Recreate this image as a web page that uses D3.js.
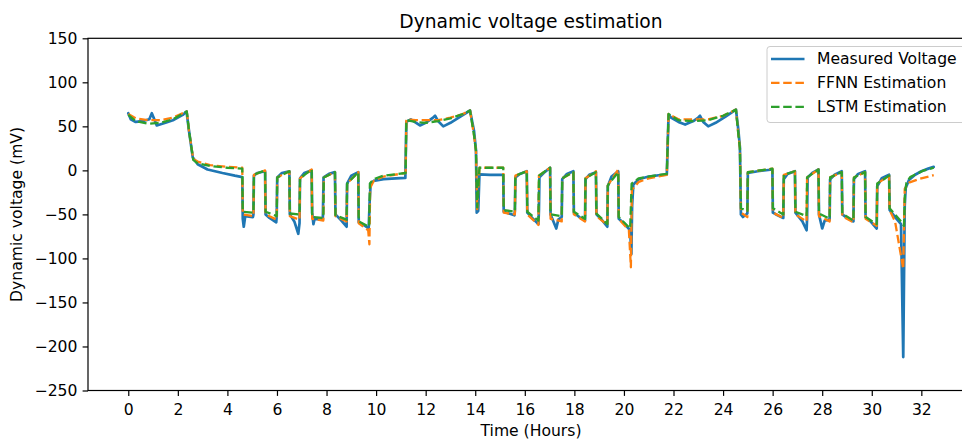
<!DOCTYPE html>
<html>
<head>
<meta charset="utf-8">
<script src="https://cdn.jsdelivr.net/npm/d3@7"></script>
<style>
  html, body { margin: 0; padding: 0; background: #fff; }
  svg { display: block; font-family: "DejaVu Sans", sans-serif; }
</style>
</head>
<body>
<svg id="chart" width="962" height="439"></svg>
<script>
// Time (hours) / dynamic voltage (mV) samples for each trace
const measuredVoltage = [
  [0,65],[0.1,58],[0.3,55],[0.6,56],[0.85,58],[0.95,65],[1.05,58],[1.15,51],[1.5,54],[1.8,57],[2.0,60],[2.2,63],[2.35,67],
  [2.45,45],[2.6,15],[2.8,7],[3.2,1],[3.8,-3],[4.3,-6],[4.6,-7.6],
  [4.62,-55],[4.66,-64],[4.72,-52],[5.03,-53],[5.05,-50],[5.07,-6],[5.2,-3],[5.52,-1],
  [5.54,-50],[5.7,-54],[5.97,-59],[5.99,-52],[6.01,-8],[6.2,-3],[6.5,-1],
  [6.52,-50],[6.7,-58],[6.86,-72],[6.91,-60],[6.93,-9],[7.1,-3],[7.4,0],
  [7.42,-48],[7.47,-61],[7.52,-55],[7.85,-56],[7.88,-8],[8.1,-4],[8.34,-2],
  [8.36,-50],[8.6,-57],[8.81,-64],[8.83,-15],[9.0,-6],[9.28,-2],
  [9.3,-59],[9.5,-62],[9.7,-66],[9.74,-35],[9.78,-15],[9.9,-12],[10.3,-10],[10.8,-9],[11.18,-8.5],
  [11.22,55],[11.4,58],[11.77,51],[12.0,54],[12.3,60],[12.38,62],[12.5,56],[12.71,50],[13.0,54],[13.4,61],[13.79,68],
  [13.95,45],[14.03,23],[14.06,-48],[14.12,-46],[14.17,-4.5],[14.6,-5],[15.13,-5],
  [15.15,-47],[15.58,-51],[15.6,-46],[15.62,-8],[15.8,-4],[16.08,-1],
  [16.1,-48],[16.3,-54],[16.55,-61],[16.57,-45],[16.59,-8],[16.8,-2],[17.02,3],
  [17.04,-50],[17.27,-66],[17.35,-56],[17.49,-53],[17.51,-10],[17.7,-4],[17.96,-1],
  [17.98,-48],[18.2,-53],[18.43,-57],[18.45,-10],[18.6,-5],[18.87,-2],
  [18.89,-50],[19.1,-56],[19.33,-64],[19.35,-18],[19.5,-7],[19.77,-1],
  [19.79,-55],[20.0,-60],[20.25,-68],[20.3,-95],[20.33,-40],[20.38,-16],[20.6,-10],[21.0,-7],[21.4,-5.5],[21.73,-4.5],
  [21.8,63],[21.9,60],[22.2,55],[22.47,52],[22.8,56],[23.0,60],[23.07,62],[23.2,55],[23.4,50],[23.7,54],[24.1,61],[24.52,69],
  [24.62,45],[24.68,26],[24.72,-50],[24.8,-53],[24.98,-49],[25.0,-3],[25.4,-1],[25.99,1],
  [26.01,-48],[26.2,-51],[26.43,-54],[26.45,-10],[26.6,-4],[26.9,-1],
  [26.92,-48],[27.2,-58],[27.37,-68],[27.39,-55],[27.41,-8],[27.6,-3],[27.85,1],
  [27.87,-50],[28.0,-66],[28.1,-57],[28.3,-56],[28.32,-10],[28.5,-5],[28.79,-1],
  [28.81,-50],[29.0,-54],[29.26,-58],[29.28,-10],[29.45,-4],[29.73,-1],
  [29.75,-53],[29.95,-58],[30.2,-66],[30.22,-18],[30.4,-9],[30.7,-5],
  [30.72,-45],[31.0,-55],[31.18,-61],[31.27,-212],[31.33,-40],[31.37,-20],[31.5,-11],[31.75,-5],[32.0,-1],[32.28,2],[32.5,4]
];

const ffnnEstimate = [
  [0,64],[0.3,59],[0.8,57],[1.3,57],[1.8,60],[2.36,67],
  [2.45,45],[2.62,13],[2.8,10],[3.3,6],[4.0,4],[4.6,3],
  [4.62,-50],[5.05,-52],[5.07,-5],[5.52,0],
  [5.54,-50],[5.99,-56],[6.01,-8],[6.5,-1],
  [6.52,-52],[6.91,-56],[6.93,-9],[7.4,1],
  [7.42,-55],[7.87,-57],[7.89,-8],[8.34,-2],
  [8.36,-52],[8.81,-58],[8.83,-15],[9.28,-2],
  [9.3,-60],[9.68,-68],[9.73,-84],[9.76,-20],[9.9,-12],[10.3,-7],[11.19,-3],
  [11.22,58],[11.6,57],[12.0,57],[12.5,57],[13.0,60],[13.5,64],[13.79,68],
  [13.95,40],[14.03,22],[14.08,-44],[14.17,3],[15.13,3],
  [15.15,-48],[15.6,-50],[15.62,-6],[16.08,-1],
  [16.1,-50],[16.55,-62],[16.57,-6],[17.02,3],
  [17.04,-55],[17.49,-58],[17.51,-9],[17.96,-2],
  [17.98,-50],[18.43,-58],[18.45,-9],[18.87,-1],
  [18.89,-52],[19.33,-62],[19.35,-17],[19.77,1],
  [19.79,-55],[20.2,-68],[20.28,-110],[20.32,-22],[20.6,-13],[21.0,-9],[21.73,-5],
  [21.8,64],[22.2,58],[22.8,58],[23.4,58],[24.0,62],[24.52,69],
  [24.62,40],[24.68,25],[24.72,-48],[24.98,-53],[25.0,-2],[25.99,2],
  [26.01,-48],[26.43,-54],[26.45,-5],[26.9,-1],
  [26.92,-50],[27.37,-58],[27.39,-8],[27.85,1],
  [27.87,-52],[28.3,-58],[28.32,-8],[28.79,-2],
  [28.81,-52],[29.26,-59],[29.28,-8],[29.73,-2],
  [29.75,-55],[30.2,-63],[30.22,-15],[30.7,-6],
  [30.72,-45],[30.94,-58],[31.27,-112],[31.33,-21],[31.5,-14],[31.95,-9.5],[32.5,-5.5]
];

const lstmEstimate = [
  [0,63],[0.3,56],[0.8,53],[1.3,54],[1.8,58],[2.36,67],
  [2.45,45],[2.62,12],[2.8,8],[3.3,5],[4.0,3],[4.6,2],
  [4.62,-47],[5.05,-48],[5.07,-5],[5.52,0],
  [5.54,-47],[5.99,-52],[6.01,-8],[6.5,-1],
  [6.52,-49],[6.91,-50],[6.93,-9],[7.4,1],
  [7.42,-53],[7.87,-54],[7.89,-8],[8.34,-2],
  [8.36,-51],[8.81,-56],[8.83,-15],[9.28,-2],
  [9.3,-58],[9.72,-64],[9.75,-15],[9.9,-10],[10.3,-6],[11.19,-3],
  [11.22,57],[11.6,55],[12.0,54],[12.5,56],[13.0,59],[13.5,64],[13.79,68],
  [13.95,40],[14.03,22],[14.08,-42],[14.17,3],[15.13,3],
  [15.15,-45],[15.6,-47],[15.62,-6],[16.08,-1],
  [16.1,-47],[16.55,-57],[16.57,-6],[17.02,3],
  [17.04,-50],[17.49,-52],[17.51,-9],[17.96,-2],
  [17.98,-47],[18.43,-55],[18.45,-9],[18.87,-2],
  [18.89,-49],[19.33,-61],[19.35,-17],[19.77,-2],
  [19.79,-53],[20.25,-66],[20.31,-15],[20.6,-9],[21.0,-7],[21.73,-4],
  [21.8,64],[22.2,57],[22.8,56],[23.4,57],[24.0,62],[24.52,69],
  [24.62,40],[24.68,25],[24.72,-43],[24.98,-46],[25.0,-2],[25.99,2],
  [26.01,-43],[26.43,-50],[26.45,-5],[26.9,-1],
  [26.92,-47],[27.37,-52],[27.39,-8],[27.85,1],
  [27.87,-49],[28.3,-55],[28.32,-8],[28.79,-2],
  [28.81,-49],[29.26,-57],[29.28,-8],[29.73,-2],
  [29.75,-53],[30.2,-61],[30.22,-15],[30.7,-6],
  [30.72,-43],[31.15,-57],[31.3,-63],[31.34,-25],[31.4,-14],[31.55,-7.6],[32.07,-0.4],[32.5,3]
];

const xTicks = [0,2,4,6,8,10,12,14,16,18,20,22,24,26,28,30,32];
const yTicks = [-250,-200,-150,-100,-50,0,50,100,150];
const seriesNames = ["Measured Voltage", "FFNN Estimation", "LSTM Estimation"];
const seriesColors = ["#1f77b4", "#ff7f0e", "#2ca02c"];

const svg = d3.select("#chart");
const plotLeft = 88, plotRight = 974, plotTop = 38.3, plotBottom = 390.5;
const labelSize = "15.6px", titleSize = "18.7px";
const dash = "8.5,3.7";

const x = d3.scaleLinear().domain([-1.625, 34.125]).range([plotLeft, plotRight]);
const y = d3.scaleLinear().domain([-250, 150]).range([plotBottom, plotTop]);

const fmt = d => d < 0 ? "\u2212" + Math.abs(d) : String(d);

// Axes
const xAxis = svg.append("g")
  .attr("transform", `translate(0,${plotBottom})`)
  .call(d3.axisBottom(x).tickValues(xTicks).tickFormat(fmt).tickSizeOuter(0).tickSize(5.4).tickPadding(7.6));
const yAxis = svg.append("g")
  .attr("transform", `translate(${plotLeft},0)`)
  .call(d3.axisLeft(y).tickValues(yTicks).tickFormat(fmt).tickSizeOuter(0).tickSize(5.4).tickPadding(5.2));

[xAxis, yAxis].forEach(g => {
  g.select(".domain").remove();
  g.selectAll(".tick line").attr("stroke", "#000").attr("stroke-width", 1.2);
  g.selectAll(".tick text").attr("fill", "#000").style("font-size", labelSize)
    .style("font-family", "'DejaVu Sans', sans-serif");
});

// Traces
const line = d3.line().x(d => x(d[0])).y(d => y(d[1]));
const plot = svg.append("g");
plot.append("path").datum(measuredVoltage)
  .attr("d", line).attr("fill", "none").attr("stroke", seriesColors[0])
  .attr("stroke-width", 2.7).attr("stroke-linejoin", "round").attr("stroke-linecap", "round");
[ffnnEstimate, lstmEstimate].forEach((data, i) => {
  plot.append("path").datum(data)
    .attr("d", line).attr("fill", "none").attr("stroke", seriesColors[i + 1])
    .attr("stroke-width", 2.3).attr("stroke-dasharray", dash).attr("stroke-linejoin", "round");
});

// Frame
svg.append("rect").attr("x", plotLeft).attr("y", plotTop)
  .attr("width", plotRight - plotLeft).attr("height", plotBottom - plotTop)
  .attr("fill", "none").attr("stroke", "#000").attr("stroke-width", 1.2);

// Titles
svg.append("text").attr("x", (plotLeft + plotRight) / 2).attr("y", 28)
  .attr("text-anchor", "middle").style("font-size", titleSize).attr("fill", "#000")
  .text("Dynamic voltage estimation");
svg.append("text").attr("x", (plotLeft + plotRight) / 2).attr("y", 436)
  .attr("text-anchor", "middle").style("font-size", labelSize).attr("fill", "#000")
  .text("Time (Hours)");
svg.append("text").attr("transform", `translate(21.5,${(plotTop + plotBottom) / 2}) rotate(-90)`)
  .attr("text-anchor", "middle").style("font-size", labelSize).attr("fill", "#000")
  .text("Dynamic voltage (mV)");

// Legend
const legend = svg.append("g");
legend.append("rect").attr("x", 767).attr("y", 46.5).attr("width", 200).attr("height", 76)
  .attr("rx", 3).attr("fill", "#fff").attr("fill-opacity", 0.8)
  .attr("stroke", "#cccccc").attr("stroke-width", 1);
seriesNames.forEach((name, i) => {
  const cy = 59 + i * 23.9;
  legend.append("line").attr("x1", 771).attr("x2", 804.5).attr("y1", cy).attr("y2", cy)
    .attr("stroke", seriesColors[i]).attr("stroke-width", 2.3)
    .attr("stroke-dasharray", i === 0 ? null : dash);
  legend.append("text").attr("x", 817).attr("y", cy).attr("dy", "0.35em")
    .style("font-size", labelSize).attr("fill", "#000").text(name);
});
</script>
</body>
</html>
